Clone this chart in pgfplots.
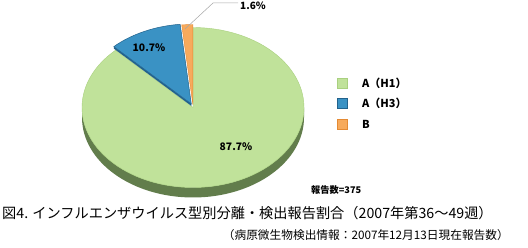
\documentclass[border=0pt]{standalone}
\usepackage{pgfplots}
\pgfplotsset{compat=1.18}
\usepackage{pgfplotstable}
\usepackage{fontspec}
\setmainfont{Noto Sans CJK JP}

\definecolor{cH1}{HTML}{C0E29A}
\definecolor{cH1e}{HTML}{A9D07F}
\definecolor{cH1side}{HTML}{627D4C}
\definecolor{cH3}{HTML}{3A92C4}
\definecolor{cH3e}{HTML}{22628C}
\definecolor{cB}{HTML}{F7AA5C}
\definecolor{cBe}{HTML}{E48A34}

\pgfplotstableread{
label value
H1 87.7
H3 10.7
B 1.6
}\piedata

\pgfplotstablegetelem{0}{value}\of\piedata \let\vH\pgfplotsretval
\pgfplotstablegetelem{1}{value}\of\piedata \let\vT\pgfplotsretval
\pgfplotstablegetelem{2}{value}\of\piedata \let\vB\pgfplotsretval
\pgfmathsetmacro{\aS}{90}
\pgfmathsetmacro{\aB}{90+3.6*\vB}
\pgfmathsetmacro{\aT}{\aB+3.6*\vT}
\pgfmathsetmacro{\aE}{\aT+3.6*\vH}
\pgfmathsetmacro{\mB}{(\aS+\aB)/2}
\pgfmathsetmacro{\mT}{(\aB+\aT)/2}

\begin{document}
\begin{tikzpicture}
\begin{axis}[
  hide axis, scale only axis,
  width=528pt, height=248pt,
  xmin=0, xmax=528, ymin=0, ymax=248, y dir=reverse,
  clip=false,
]
% side of the pie
\fill[cH1side] ([shift={(180:111pt and 80pt)}]axis cs:193,107.5)
  arc[start angle=180, end angle=360, x radius=111pt, y radius=80pt]
  -- ++(0,-10pt)
  arc[start angle=360, end angle=180, x radius=111pt, y radius=80pt] -- cycle;
% A(H1)
\filldraw[fill=cH1, draw=cH1e, line width=0.4pt] (axis cs:193,107.5) -- ++(\aT:111pt and 80pt)
  arc[start angle=\aT, end angle=\aE, x radius=111pt, y radius=80pt] -- cycle;
% A(H3) exploded
\begin{scope}[shift={(\mT:4pt)}]
\fill[cH3e] (axis cs:193,107.5) -- ++(\aT:111pt and 80pt) -- ++(0,-2pt) -- ([yshift=-2pt]axis cs:193,107.5) -- cycle;
\filldraw[fill=cH3, draw=cH3e, line width=0.5pt] (axis cs:193,107.5) -- ++(\aB:111pt and 80pt)
  arc[start angle=\aB, end angle=\aT, x radius=111pt, y radius=80pt] -- cycle;
\end{scope}
% B exploded
\begin{scope}[shift={(\mB:3pt)}]
\filldraw[fill=cB, draw=cBe, line width=0.4pt] (axis cs:193,107.5) -- ++(\aS:111pt and 80pt)
  arc[start angle=\aS, end angle=\aB, x radius=111pt, y radius=80pt] -- cycle;
\end{scope}
% slice labels
\node[font=\fontsize{10.3}{12}\selectfont\bfseries] at (axis cs:236,147) {87.7\%};
\node[font=\fontsize{10.3}{12}\selectfont\bfseries] at (axis cs:149,48) {10.7\%};
\draw[black!35, line width=0.5pt] (axis cs:185,29) -- (axis cs:213,3) -- (axis cs:238,3);
\node[font=\fontsize{10}{12}\selectfont\bfseries, anchor=west, inner sep=0pt] at (axis cs:240,5.5) {1.6\%};
% legend
\filldraw[fill=cH1, draw=cH1e] (axis cs:337,78) rectangle (axis cs:347,88);
\filldraw[fill=cH3, draw=cH3e] (axis cs:337,98) rectangle (axis cs:347,108);
\filldraw[fill=cB, draw=cBe] (axis cs:337,119) rectangle (axis cs:347,129);
\node[font=\fontsize{11}{13}\selectfont\bfseries, anchor=west, inner sep=0pt] at (axis cs:362,83) {A（H1）};
\node[font=\fontsize{11}{13}\selectfont\bfseries, anchor=west, inner sep=0pt] at (axis cs:362,103) {A（H3）};
\node[font=\fontsize{11}{13}\selectfont\bfseries, anchor=west, inner sep=0pt] at (axis cs:362,124) {B};
\node[font=\fontsize{9.2}{11}\selectfont\bfseries, anchor=west, inner sep=0pt] at (axis cs:311,190) {報告数=375};
% titles
\node[font=\fontsize{14.2}{16}\selectfont, anchor=west, inner sep=0pt] at (axis cs:2,213) {図4. インフルエンザウイルス型別分離・検出報告割合（2007年第36～49週）};
\node[font=\fontsize{11.7}{14}\selectfont, anchor=east, inner sep=0pt] at (axis cs:509,235) {（病原微生物検出情報：2007年12月13日現在報告数）};
\end{axis}
\pgfresetboundingbox
\path (current axis.south west) rectangle (current axis.north east);
\end{tikzpicture}
\end{document}
